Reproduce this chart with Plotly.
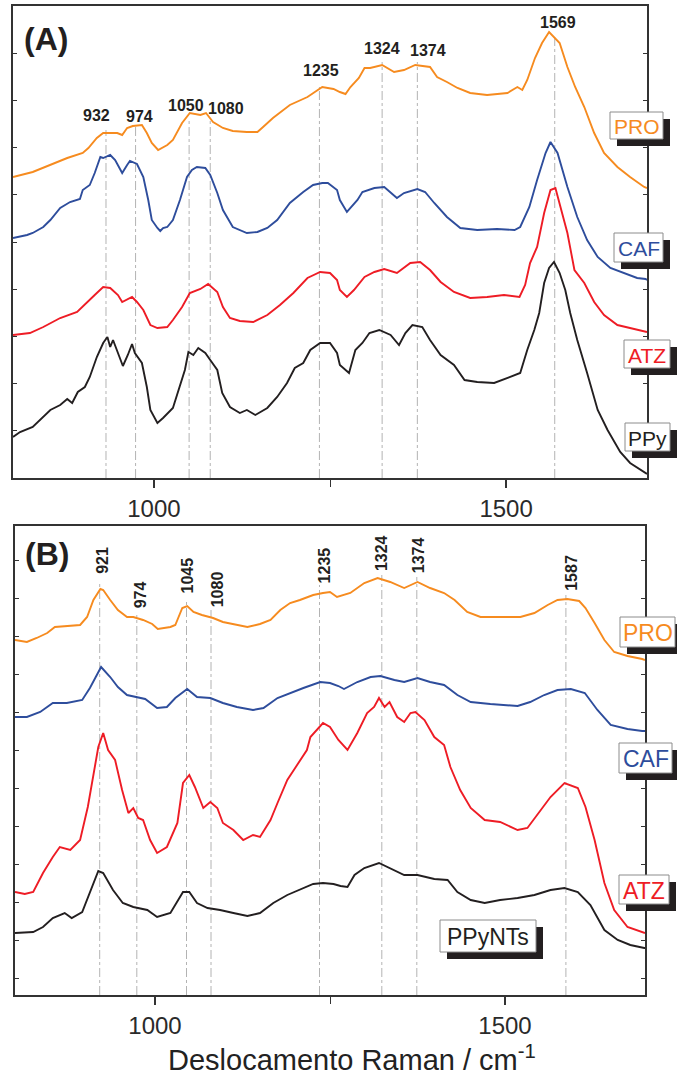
import plotly.graph_objects as go

W, H = 677, 1076

# ---------------- Panel (A) data (Raman shift / cm-1, intensity a.u.) ----------------
pro_a_wn = [800, 828, 877, 899, 907, 919, 928, 948, 955, 962, 970, 983, 990, 997, 1006, 1019, 1027, 1040, 1051, 1066,
            1074, 1084, 1098, 1112, 1132, 1147, 1155, 1169, 1193, 1218, 1239, 1255, 1264, 1272, 1279, 1291, 1299, 1307,
            1324, 1341, 1355, 1371, 1392, 1402, 1416, 1431, 1449, 1473, 1502, 1516, 1523, 1530, 1541, 1551, 1561, 1568,
            1576, 1587, 1598, 1611, 1625, 1639, 1658, 1676, 1696, 1700]
pro_a_int = [301, 306, 320, 325, 330, 340, 345, 345, 343, 350, 352, 353, 345, 335, 328, 333, 338, 355, 365, 363,
             365, 356, 350, 347, 346, 346, 351, 360, 373, 381, 391, 389, 386, 384, 391, 400, 410, 410,
             413, 406, 408, 413, 411, 401, 396, 390, 385, 383, 385, 391, 388, 398, 420, 435, 446, 441,
             435, 411, 391, 371, 345, 325, 311, 301, 291, 290]

caf_a_wn = [800, 820, 828, 843, 853, 867, 881, 895, 899, 909, 916, 924, 928, 938, 945, 955, 962, 966, 976, 985,
            992, 997, 1005, 1009, 1013, 1019, 1027, 1037, 1047, 1054, 1061, 1073, 1080, 1090, 1098, 1112, 1132, 1147,
            1161, 1175, 1193, 1212, 1226, 1239, 1247, 1260, 1264, 1274, 1289, 1296, 1313, 1327, 1345, 1355, 1374,
            1385, 1398, 1416, 1435, 1459, 1487, 1512, 1520, 1533, 1544, 1556, 1563, 1573, 1587, 1601, 1615, 1630,
            1648, 1668, 1686, 1698, 1700]
caf_a_int = [240, 243, 245, 251, 258, 270, 276, 279, 288, 293, 305, 321, 320, 323, 318, 305, 313, 317, 314, 301,
             278, 258, 250, 247, 250, 251, 258, 278, 301, 308, 311, 310, 303, 285, 268, 251, 245, 246,
             250, 258, 275, 286, 293, 295, 295, 288, 278, 266, 278, 286, 290, 291, 280, 285, 289,
             286, 275, 261, 250, 248, 249, 248, 251, 271, 298, 325, 336, 325, 291, 261, 238, 221,
             210, 205, 200, 199, 198]

atz_a_wn = [800, 824, 843, 867, 891, 905, 916, 928, 938, 949, 955, 969, 976, 985, 995, 1005, 1019, 1027, 1040, 1051,
            1066, 1077, 1090, 1098, 1108, 1122, 1141, 1161, 1179, 1198, 1218, 1236, 1250, 1260, 1264, 1274, 1284,
            1299, 1313, 1327, 1345, 1364, 1378, 1392, 1407, 1426, 1449, 1473, 1497, 1519, 1527, 1534, 1544, 1554,
            1563, 1570, 1577, 1587, 1597, 1611, 1625, 1639, 1658, 1676, 1698, 1700]
atz_a_int = [143, 145, 151, 160, 166, 175, 183, 191, 190, 183, 176, 181, 176, 168, 153, 150, 151, 158, 171, 185,
             189, 194, 186, 171, 160, 157, 156, 163, 173, 185, 200, 206, 205, 198, 188, 181, 188,
             201, 206, 209, 205, 215, 216, 208, 196, 186, 180, 181, 183, 181, 193, 215, 231, 265,
             288, 290, 271, 245, 208, 195, 176, 163, 153, 150, 147, 146]

ppy_a_wn = [800, 810, 828, 843, 853, 867, 877, 884, 892, 902, 909, 919, 928, 934, 938, 942, 949, 956, 963, 969,
            973, 983, 990, 995, 1005, 1013, 1027, 1037, 1044, 1049, 1056, 1063, 1073, 1080, 1090, 1097, 1108, 1122,
            1132, 1144, 1161, 1175, 1189, 1200, 1212, 1222, 1236, 1250, 1260, 1264, 1277, 1286, 1296, 1306, 1320,
            1336, 1348, 1357, 1367, 1381, 1392, 1407, 1426, 1441, 1459, 1483, 1506, 1520, 1530, 1540, 1547, 1554,
            1561, 1568, 1576, 1584, 1591, 1601, 1615, 1630, 1644, 1662, 1676, 1698, 1700]
ppy_a_int = [41, 46, 51, 61, 68, 73, 79, 75, 86, 91, 101, 121, 135, 141, 131, 138, 125, 112, 123, 134,
             125, 115, 91, 68, 55, 60, 70, 91, 108, 126, 123, 130, 125, 118, 108, 85, 71, 65,
             68, 63, 70, 81, 95, 110, 115, 128, 135, 135, 125, 113, 105, 128, 135, 145, 148,
             143, 133, 145, 153, 151, 138, 123, 113, 98, 96, 95, 101, 105, 128, 148, 165, 195,
             210, 216, 205, 188, 165, 138, 105, 68, 48, 26, 15, 5, 4]

# ---------------- Panel (B) data ----------------
pro_b_wn = [800, 817, 831, 846, 857, 874, 893, 903, 912, 922, 926, 936, 947, 960, 969, 983, 996, 1004, 1022, 1029,
            1039, 1046, 1055, 1067, 1083, 1097, 1117, 1132, 1150, 1165, 1179, 1193, 1207, 1226, 1240, 1250, 1260,
            1279, 1299, 1318, 1336, 1356, 1375, 1393, 1413, 1428, 1446, 1465, 1485, 1503, 1522, 1542, 1561, 1575,
            1589, 1606, 1615, 1628, 1642, 1656, 1675, 1696, 1700]
pro_b_int = [355, 353, 357, 362, 368, 369, 370, 378, 395, 406, 405, 395, 385, 378, 378, 375, 371, 366, 368, 370,
             387, 389, 383, 380, 377, 373, 370, 368, 371, 375, 385, 392, 395, 400, 402, 403, 398,
             402, 412, 417, 413, 407, 413, 407, 402, 395, 383, 378, 378, 378, 378, 382, 390, 395,
             396, 394, 387, 372, 355, 343, 339, 336, 335]

caf_b_wn = [800, 817, 836, 854, 874, 896, 907, 917, 923, 936, 947, 960, 974, 986, 1003, 1017, 1029, 1046, 1060, 1079,
            1097, 1117, 1140, 1155, 1175, 1193, 1212, 1236, 1250, 1262, 1270, 1289, 1308, 1322, 1342, 1356, 1375,
            1393, 1413, 1432, 1451, 1479, 1518, 1536, 1556, 1575, 1594, 1614, 1632, 1651, 1675, 1696, 1700]
caf_b_int = [278, 278, 283, 292, 292, 295, 307, 320, 328, 318, 308, 300, 298, 296, 287, 288, 297, 306, 298, 297,
             292, 288, 285, 287, 297, 302, 307, 313, 312, 309, 306, 313, 318, 319, 315, 313, 317,
             313, 310, 300, 293, 291, 289, 293, 300, 305, 306, 302, 285, 270, 266, 264, 264]

atz_b_wn = [800, 814, 826, 840, 854, 864, 879, 893, 904, 914, 919, 926, 933, 943, 953, 962, 969, 976, 983, 993,
            1003, 1017, 1032, 1040, 1049, 1057, 1065, 1069, 1079, 1089, 1097, 1112, 1126, 1140, 1150, 1165, 1175,
            1189, 1203, 1217, 1222, 1240, 1250, 1262, 1275, 1289, 1303, 1313, 1320, 1328, 1335, 1346, 1356, 1365,
            1372, 1385, 1399, 1413, 1422, 1436, 1451, 1471, 1493, 1518, 1532, 1546, 1565, 1585, 1604, 1615, 1628,
            1642, 1656, 1675, 1699, 1700]
atz_b_int = [103, 101, 103, 122, 138, 148, 145, 155, 188, 228, 248, 262, 245, 235, 205, 182, 187, 177, 175, 155,
             142, 148, 172, 212, 220, 208, 195, 187, 193, 187, 172, 165, 155, 160, 158, 175, 192,
             215, 230, 245, 258, 272, 268, 255, 245, 262, 282, 288, 297, 288, 293, 278, 273, 282,
             283, 275, 258, 250, 228, 205, 187, 175, 173, 165, 167, 180, 198, 212, 207, 188, 155,
             112, 85, 68, 62, 62]

ppy_b_wn = [800, 826, 840, 854, 871, 881, 896, 907, 919, 926, 940, 954, 969, 989, 1003, 1022, 1040, 1049, 1060, 1075,
            1093, 1112, 1132, 1150, 1169, 1189, 1207, 1226, 1240, 1255, 1265, 1275, 1285, 1299, 1320, 1336, 1356,
            1375, 1399, 1418, 1432, 1451, 1471, 1493, 1518, 1542, 1565, 1585, 1604, 1622, 1642, 1661, 1679, 1699, 1700]
ppy_b_int = [62, 63, 68, 77, 82, 77, 83, 102, 124, 122, 105, 92, 88, 85, 78, 82, 103, 103, 92, 87,
             85, 82, 79, 82, 92, 100, 105, 111, 112, 111, 109, 108, 120, 127, 132, 127, 120,
             120, 116, 115, 103, 95, 92, 95, 97, 100, 105, 107, 103, 90, 65, 55, 50, 47, 47]

# peak markers
peaks_a = [932, 974, 1050, 1080, 1235, 1324, 1374, 1569]
peaks_a_top = [348, 351, 360, 360, 391, 416, 416, 442]
peaks_a_label_x = [919, 980, 1046, 1103, 1237, 1324, 1389, 1573]
peaks_a_label_y = [362, 361, 372, 369, 407, 429, 427, 455]

peaks_b = [921, 974, 1045, 1080, 1235, 1324, 1374, 1587]
peaks_b_top = [412, 380, 395, 385, 410, 420, 418, 400]
peaks_b_label_x = [924, 979, 1045, 1089, 1242, 1323, 1376, 1594]
peaks_b_label_y = [435, 400, 419, 406, 430, 442, 440, 422]

x_ticks = [1000, 1500]
x_title = "Deslocamento Raman / cm<sup>-1</sup>"

ORANGE = "#F68B1F"
BLUE = "#2E4D9C"
RED = "#EE1C25"
BLACK = "#231F20"
FONT = "Liberation Sans, Arial, sans-serif"

fig = go.Figure()

series = [
    (ppy_a_wn, ppy_a_int, BLACK, "x", "y"),
    (atz_a_wn, atz_a_int, RED, "x", "y"),
    (caf_a_wn, caf_a_int, BLUE, "x", "y"),
    (pro_a_wn, pro_a_int, ORANGE, "x", "y"),
    (ppy_b_wn, ppy_b_int, BLACK, "x2", "y2"),
    (atz_b_wn, atz_b_int, RED, "x2", "y2"),
    (caf_b_wn, caf_b_int, BLUE, "x2", "y2"),
    (pro_b_wn, pro_b_int, ORANGE, "x2", "y2"),
]
for xs, ys, col, xa, ya in series:
    fig.add_trace(go.Scatter(x=xs, y=ys, mode="lines", line=dict(color=col, width=1.9),
                             xaxis=xa, yaxis=ya, showlegend=False, hoverinfo="skip"))

shapes = []
annotations = []

DASH = dict(color="#A0A0A0", width=0.8, dash="dashdot")
for p, t in zip(peaks_a, peaks_a_top):
    shapes.append(dict(type="line", xref="x", yref="y", x0=p, x1=p, y0=0, y1=t, line=DASH, layer="below"))
for p, t in zip(peaks_b, peaks_b_top):
    shapes.append(dict(type="line", xref="x2", yref="y2", x0=p, x1=p, y0=0, y1=t, line=DASH, layer="below"))

for p, lx, ly in zip(peaks_a, peaks_a_label_x, peaks_a_label_y):
    annotations.append(dict(x=lx, y=ly, xref="x", yref="y", text=f"<b>{p}</b>", showarrow=False,
                            font=dict(family=FONT, size=16, color=BLACK), xanchor="center", yanchor="middle"))
for p, lx, ly in zip(peaks_b, peaks_b_label_x, peaks_b_label_y):
    annotations.append(dict(x=lx, y=ly, xref="x2", yref="y2", text=f"<b>{p}</b>", showarrow=False, textangle=-90,
                            font=dict(family=FONT, size=16, color=BLACK), xanchor="center", yanchor="middle"))

# sample label boxes (pixel boxes of the page) with drop shadow
labels = [
    ("PRO", ORANGE, (610, 112, 663, 139), 21),
    ("CAF", BLUE, (614, 233, 663, 262), 21),
    ("ATZ", RED, (624, 340, 670, 368), 21),
    ("PPy", BLACK, (625, 423, 670, 451), 21),
    ("PRO", ORANGE, (620, 617, 675, 647), 23),
    ("CAF", BLUE, (619, 743, 672, 773), 23),
    ("ATZ", RED, (619, 875, 669, 904), 23),
    ("PPyNTs", BLACK, (440, 920, 536, 952), 23),
]
px = lambda v: v / W
py = lambda v: 1 - v / H
SH = 7
for txt, col, (x0, y0, x1, y1), fs in labels:
    shapes.append(dict(type="rect", xref="paper", yref="paper", x0=px(x0 + SH), x1=px(x1 + SH),
                       y0=py(y1 + SH), y1=py(y0 + SH), fillcolor=BLACK, line=dict(width=0), layer="above"))
    shapes.append(dict(type="rect", xref="paper", yref="paper", x0=px(x0), x1=px(x1),
                       y0=py(y1), y1=py(y0), fillcolor="white", line=dict(color="#8C8C8C", width=1), layer="above"))
    annotations.append(dict(x=px((x0 + x1) / 2), y=py((y0 + y1) / 2 + 1), xref="paper", yref="paper", text=txt,
                            showarrow=False, font=dict(family=FONT, size=fs, color=col),
                            xanchor="center", yanchor="middle"))

annotations.append(dict(x=px(46), y=py(39), xref="paper", yref="paper", text="<b>(A)</b>", showarrow=False,
                        font=dict(family=FONT, size=32, color=BLACK), xanchor="center", yanchor="middle"))
annotations.append(dict(x=px(47), y=py(554), xref="paper", yref="paper", text="<b>(B)</b>", showarrow=False,
                        font=dict(family=FONT, size=32, color=BLACK), xanchor="center", yanchor="middle"))
annotations.append(dict(x=px(352), y=py(1058), xref="paper", yref="paper", text=x_title, showarrow=False,
                        font=dict(family=FONT, size=29, color="#222222"), xanchor="center", yanchor="middle"))

AX = "#333333"
xcommon = dict(range=[800, 1700], tickvals=x_ticks, ticktext=[str(v) for v in x_ticks], ticks="outside",
               ticklen=8, tickwidth=1.5, tickcolor=AX, showline=True, linecolor=AX, linewidth=1.8, mirror=True,
               showgrid=False, zeroline=False, tickfont=dict(family=FONT, size=24, color="#2a2a2a"),
               minor=dict(tickvals=[1250], ticks="outside", ticklen=7, tickwidth=1.2, tickcolor=AX))
ycommon = dict(showticklabels=False, ticks="inside", ticklen=4, tickwidth=1, tickcolor=AX, showline=True,
               linecolor=AX, linewidth=1.8, mirror="ticks", showgrid=False, zeroline=False)

fig.update_layout(
    width=W, height=H, margin=dict(l=0, r=0, t=0, b=0), paper_bgcolor="white", plot_bgcolor="white",
    xaxis=dict(domain=[13 / W, 647 / W], anchor="y", **xcommon),
    yaxis=dict(domain=[1 - 478 / H, 1 - 6 / H], anchor="x", range=[0, 472], tick0=0, dtick=47.2, **ycommon),
    xaxis2=dict(domain=[15 / W, 645 / W], anchor="y2", **xcommon),
    yaxis2=dict(domain=[1 - 995 / H, 1 - 526 / H], anchor="x2", range=[0, 469], tick0=17, dtick=38, **ycommon),
    shapes=shapes, annotations=annotations, showlegend=False,
)

fig.write_html("out.html")
